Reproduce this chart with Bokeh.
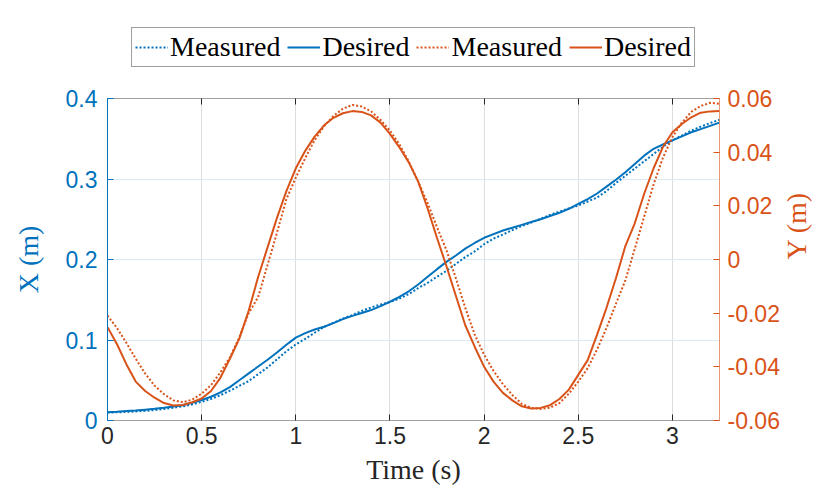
import math
from bokeh.plotting import figure
from bokeh.layouts import column
from bokeh.models import Range1d, LinearAxis, FixedTicker, Legend, LegendItem
from bokeh.embed import file_html
from bokeh.resources import INLINE

# ---------------- data ----------------
time_s = [0.00, 0.05, 0.10, 0.15, 0.20, 0.25, 0.30, 0.35, 0.40, 0.45,
          0.50, 0.55, 0.60, 0.65, 0.70, 0.75, 0.80, 0.85, 0.90, 0.95,
          1.00, 1.05, 1.10, 1.15, 1.20, 1.25, 1.30, 1.35, 1.40, 1.45,
          1.50, 1.55, 1.60, 1.65, 1.70, 1.75, 1.80, 1.85, 1.90, 1.95,
          2.00, 2.05, 2.10, 2.15, 2.20, 2.25, 2.30, 2.35, 2.40, 2.45,
          2.50, 2.55, 2.60, 2.65, 2.70, 2.75, 2.80, 2.85, 2.90, 2.95,
          3.00, 3.05, 3.10, 3.15, 3.20, 3.25]

x_measured = [0.0099, 0.0102, 0.0106, 0.0112, 0.0120, 0.0130, 0.0143, 0.0160, 0.0175, 0.0200,
              0.0232, 0.0268, 0.0315, 0.0370, 0.0430, 0.0490, 0.0575, 0.0660, 0.0760, 0.0860,
              0.0945, 0.1015, 0.1090, 0.1162, 0.1215, 0.1265, 0.1310, 0.1360, 0.1405, 0.1440,
              0.1472, 0.1515, 0.1570, 0.1645, 0.1710, 0.1785, 0.1860, 0.1945, 0.2030, 0.2100,
              0.2190, 0.2260, 0.2310, 0.2365, 0.2415, 0.2460, 0.2505, 0.2555, 0.2595, 0.2635,
              0.2670, 0.2720, 0.2770, 0.2850, 0.2950, 0.3040, 0.3130, 0.3220, 0.3310, 0.3400,
              0.3480, 0.3540, 0.3600, 0.3650, 0.3695, 0.3735]

x_desired = [0.0103, 0.0110, 0.0118, 0.0125, 0.0135, 0.0145, 0.0158, 0.0175, 0.0190, 0.0220,
             0.0255, 0.0295, 0.0350, 0.0415, 0.0500, 0.0585, 0.0670, 0.0755, 0.0845, 0.0940,
             0.1030, 0.1085, 0.1130, 0.1165, 0.1210, 0.1260, 0.1300, 0.1335, 0.1372, 0.1420,
             0.1475, 0.1535, 0.1605, 0.1690, 0.1785, 0.1880, 0.1970, 0.2050, 0.2135, 0.2205,
             0.2270, 0.2315, 0.2360, 0.2395, 0.2430, 0.2465, 0.2500, 0.2540, 0.2580, 0.2630,
             0.2690, 0.2750, 0.2820, 0.2905, 0.2990, 0.3085, 0.3185, 0.3290, 0.3375, 0.3430,
             0.3480, 0.3530, 0.3580, 0.3620, 0.3660, 0.3700]

y_measured = [-0.0209, -0.0255, -0.0310, -0.0370, -0.0425, -0.0470, -0.0502, -0.0525, -0.0532, -0.0522,
              -0.0500, -0.0468, -0.0420, -0.0365, -0.0290, -0.0200, -0.0140, -0.0020, 0.0100, 0.0225,
              0.0305, 0.0378, 0.0445, 0.0496, 0.0535, 0.0562, 0.0576, 0.0570, 0.0552, 0.0520,
              0.0480, 0.0430, 0.0365, 0.0290, 0.0210, 0.0120, 0.0035, -0.0070, -0.0180, -0.0280,
              -0.0355, -0.0415, -0.0465, -0.0505, -0.0538, -0.0553, -0.0557, -0.0552, -0.0535, -0.0500,
              -0.0455, -0.0405, -0.0335, -0.0255, -0.0165, -0.0078, 0.0040, 0.0160, 0.0280, 0.0380,
              0.0456, 0.0510, 0.0550, 0.0572, 0.0584, 0.0580]

y_desired = [-0.0252, -0.0315, -0.0390, -0.0455, -0.0490, -0.0515, -0.0535, -0.0544, -0.0542, -0.0532,
             -0.0518, -0.0490, -0.0440, -0.0370, -0.0295, -0.0190, -0.0065, 0.0045, 0.0155, 0.0255,
             0.0340, 0.0405, 0.0458, 0.0500, 0.0528, 0.0545, 0.0553, 0.0550, 0.0537, 0.0510,
             0.0468, 0.0418, 0.0362, 0.0290, 0.0190, 0.0080, -0.0025, -0.0135, -0.0245, -0.0325,
             -0.0400, -0.0455, -0.0497, -0.0525, -0.0547, -0.0555, -0.0553, -0.0543, -0.0520, -0.0485,
             -0.0430, -0.0375, -0.0280, -0.0180, -0.0070, 0.0050, 0.0135, 0.0245, 0.0340, 0.0420,
             0.0474, 0.0505, 0.0530, 0.0547, 0.0552, 0.0553]

x_ticks = [0, 0.5, 1, 1.5, 2, 2.5, 3]
x_tick_labels = ["0", "0.5", "1", "1.5", "2", "2.5", "3"]
left_ticks = [0, 0.1, 0.2, 0.3, 0.4]
left_tick_labels = ["0", "0.1", "0.2", "0.3", "0.4"]
right_ticks = [-0.06, -0.04, -0.02, 0, 0.02, 0.04, 0.06]
right_tick_labels = ["-0.06", "-0.04", "-0.02", "0", "0.02", "0.04", "0.06"]
series_labels = ["Measured", "Desired", "Measured", "Desired"]

# ---------------- style ----------------
BLUE = "#0072BD"
ORANGE = "#D95319"
DARK = "#262626"
SANS = "Liberation Sans"
SERIF = "Liberation Serif"
TICK_FS = "23px"
LABEL_FS = "28px"
DASH = "2 2"

p = figure(width=830, height=421, output_backend="svg", toolbar_location=None,
           x_range=Range1d(0, 3.25), y_range=Range1d(0, 0.4),
           min_border_left=107, min_border_right=108, min_border_top=28, min_border_bottom=71)
p.extra_y_ranges = {"y2": Range1d(-0.06, 0.06)}
p.outline_line_color = None
p.background_fill_color = "white"
p.border_fill_color = "white"

p.line(time_s, x_measured, line_color=BLUE, line_width=2, line_dash=DASH)
p.line(time_s, x_desired, line_color=BLUE, line_width=2)
p.line(time_s, y_measured, line_color=ORANGE, line_width=2, line_dash=DASH, y_range_name="y2")
p.line(time_s, y_desired, line_color=ORANGE, line_width=2, y_range_name="y2")

# bottom axis
xa = p.xaxis[0]
xa.ticker = FixedTicker(ticks=x_ticks)
xa.major_label_overrides = {float(t): s for t, s in zip(x_ticks, x_tick_labels)}
xa.axis_line_color = "#A0A0A0"
xa.major_tick_line_color = DARK
xa.major_tick_in = 6
xa.major_tick_out = 0
xa.minor_tick_line_color = None
xa.major_label_text_font = SANS
xa.major_label_text_font_size = TICK_FS
xa.major_label_text_color = DARK
xa.major_label_standoff = 6
xa.axis_label = "Time (s)"
xa.axis_label_text_font = SERIF
xa.axis_label_text_font_size = LABEL_FS
xa.axis_label_text_font_style = "normal"
xa.axis_label_text_color = DARK
xa.axis_label_standoff = 7

# left axis
ya = p.yaxis[0]
ya.ticker = FixedTicker(ticks=left_ticks)
ya.major_label_overrides = {float(t): s for t, s in zip(left_ticks, left_tick_labels)}
ya.axis_line_color = BLUE
ya.major_tick_line_color = BLUE
ya.major_tick_in = 6
ya.major_tick_out = 0
ya.minor_tick_line_color = None
ya.major_label_text_font = SANS
ya.major_label_text_font_size = TICK_FS
ya.major_label_text_color = BLUE
ya.major_label_standoff = 10
ya.axis_label = "X (m)"
ya.axis_label_text_font = SERIF
ya.axis_label_text_font_size = LABEL_FS
ya.axis_label_text_font_style = "normal"
ya.axis_label_text_color = BLUE
ya.axis_label_standoff = 19

# right axis
ra = LinearAxis(y_range_name="y2", ticker=FixedTicker(ticks=right_ticks))
ra.major_label_overrides = {float(t): s for t, s in zip(right_ticks, right_tick_labels)}
ra.axis_line_color = ORANGE
ra.axis_line_alpha = 0.6
ra.major_tick_line_color = ORANGE
ra.major_tick_in = 6
ra.major_tick_out = 0
ra.minor_tick_line_color = None
ra.major_label_text_font = SANS
ra.major_label_text_font_size = TICK_FS
ra.major_label_text_color = ORANGE
ra.major_label_standoff = 8
ra.axis_label = "Y (m)"
ra.axis_label_text_font = SERIF
ra.axis_label_text_font_size = LABEL_FS
ra.axis_label_text_font_style = "normal"
ra.axis_label_text_color = ORANGE
ra.axis_label_standoff = 14
ra.axis_label_orientation = math.pi / 2
p.add_layout(ra, "right")

# top box edge with inward ticks, no labels
ta = LinearAxis(ticker=FixedTicker(ticks=x_ticks))
ta.major_label_overrides = {float(t): "" for t in x_ticks}
ta.major_label_text_font_size = "0px"
ta.major_label_standoff = 0
ta.axis_line_color = "#A0A0A0"
ta.major_tick_line_color = DARK
ta.major_tick_in = 6
ta.major_tick_out = 0
ta.minor_tick_line_color = None
p.add_layout(ta, "above")

# grids
p.xgrid.ticker = FixedTicker(ticks=x_ticks)
p.xgrid.grid_line_color = "#DEDEDE"
p.xgrid.grid_line_width = 1
p.ygrid.ticker = FixedTicker(ticks=left_ticks)
p.ygrid.grid_line_color = "#D9EAF5"
p.ygrid.grid_line_width = 1

# legend strip above the axes (its lines reuse the data, kept out of view)
lf = figure(width=830, height=70, output_backend="svg", toolbar_location=None,
            x_range=Range1d(0, 3.25), y_range=Range1d(10, 11),
            min_border_left=0, min_border_right=0, min_border_top=0, min_border_bottom=0)
lf.axis.visible = False
lf.grid.visible = False
lf.outline_line_color = None
lf.background_fill_color = "white"
lf.border_fill_color = "white"
l_xm = lf.line(time_s, x_measured, line_color=BLUE, line_width=2, line_dash=DASH)
l_xd = lf.line(time_s, x_desired, line_color=BLUE, line_width=2)
l_ym = lf.line(time_s, y_measured, line_color=ORANGE, line_width=2, line_dash=DASH)
l_yd = lf.line(time_s, y_desired, line_color=ORANGE, line_width=2)

legend = Legend(items=[LegendItem(label=series_labels[0], renderers=[l_xm]),
                       LegendItem(label=series_labels[1], renderers=[l_xd]),
                       LegendItem(label=series_labels[2], renderers=[l_ym]),
                       LegendItem(label=series_labels[3], renderers=[l_yd])],
                orientation="horizontal", location="bottom_center")
legend.label_text_font = SERIF
legend.label_text_font_size = LABEL_FS
legend.label_text_color = "black"
legend.glyph_width = 33
legend.glyph_height = 20
legend.label_standoff = 2
legend.spacing = 7
legend.padding = 3
legend.margin = 3
legend.border_line_color = "#404040"
legend.border_line_width = 1
legend.background_fill_color = "white"
legend.background_fill_alpha = 1
lf.add_layout(legend, "center")

layout = column(lf, p, spacing=0)
open("out.html", "w").write(file_html(layout, INLINE))
